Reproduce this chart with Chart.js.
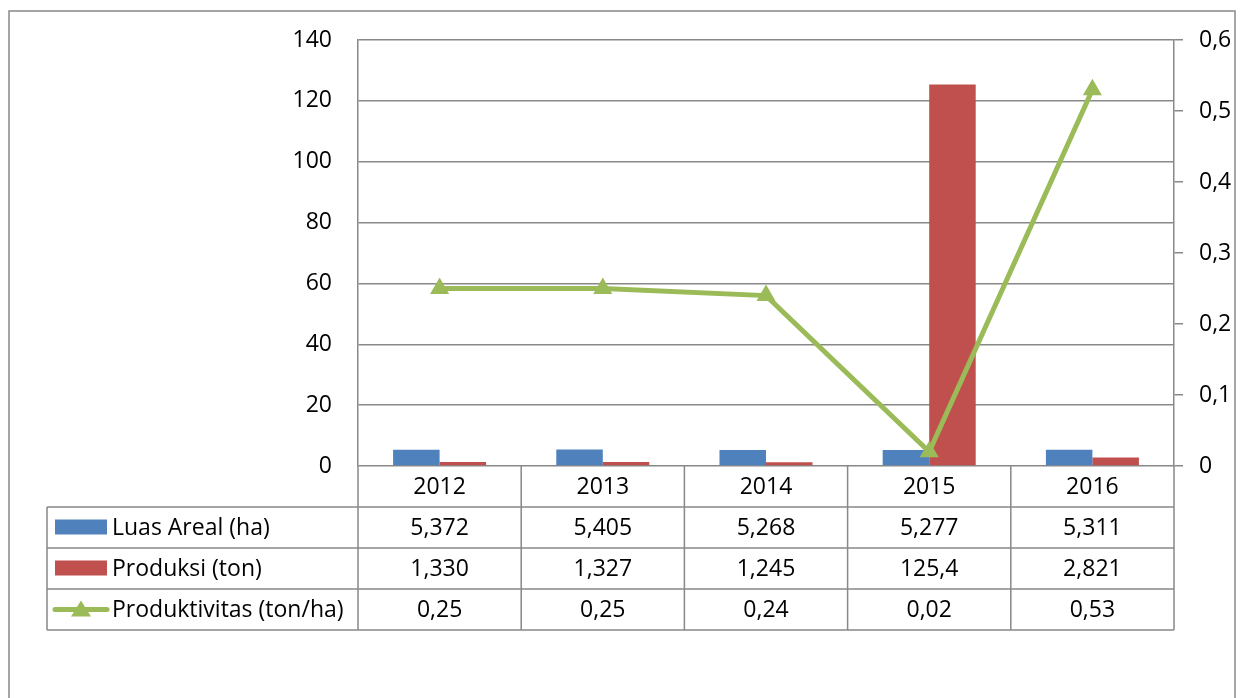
<!DOCTYPE html>
<html>
<head>
<meta charset="utf-8">
<script src="https://cdn.jsdelivr.net/npm/chart.js@4.4.1/dist/chart.umd.min.js"></script>
<style>
  html, body { margin: 0; padding: 0; background: #fff; }
  #wrap { position: relative; width: 1245px; height: 698px; }
</style>
</head>
<body>
<div id="wrap"><canvas id="chart"></canvas></div>
<script>
// data
const years = ['2012', '2013', '2014', '2015', '2016'];
const luasAreal = [5.372, 5.405, 5.268, 5.277, 5.311];
const produksi = [1.330, 1.327, 1.245, 125.4, 2.821];
const produktivitas = [0.25, 0.25, 0.24, 0.02, 0.53];
const luasText = ['5,372', '5,405', '5,268', '5,277', '5,311'];
const produksiText = ['1,330', '1,327', '1,245', '125,4', '2,821'];
const produktivitasText = ['0,25', '0,25', '0,24', '0,02', '0,53'];
const seriesNames = ['Luas Areal (ha)', 'Produksi (ton)', 'Produktivitas (ton/ha)'];

const BLUE = '#4F81BD';
const RED = '#C0504D';
const GREEN = '#9BBB59';
const GRID = '#888888';
const FONT_FAMILY = '"Open Sans", "Noto Sans", sans-serif';
const FONT_SIZE = 23;
const FONT = FONT_SIZE + 'px ' + FONT_FAMILY;

// draws the data table under the plot + the outer frame
const tablePlugin = {
    id: 'dataTable',
    afterDraw(chart) {
        const ctx = chart.ctx;
        const area = chart.chartArea;
        const xs = chart.scales.x;
        const rowH = 41;
        const legendLeft = 47;
        const top = area.bottom;
        const colW = (area.right - area.left) / years.length;

        ctx.save();
        ctx.strokeStyle = GRID;
        ctx.lineWidth = 1.5;

        // horizontal lines
        ctx.beginPath();
        for (let r = 1; r <= 4; r++) {
            const y = top + r * rowH;
            ctx.moveTo(legendLeft, y);
            ctx.lineTo(area.right, y);
        }
        // vertical lines
        for (let c = 0; c <= years.length; c++) {
            const x = area.left + c * colW;
            ctx.moveTo(x, top);
            ctx.lineTo(x, top + 4 * rowH);
        }
        ctx.moveTo(legendLeft, top + rowH);
        ctx.lineTo(legendLeft, top + 4 * rowH);
        ctx.stroke();

        // cell text
        ctx.fillStyle = '#000';
        ctx.font = FONT;
        ctx.textAlign = 'center';
        ctx.textBaseline = 'middle';
        const rows = [years, luasText, produksiText, produktivitasText];
        rows.forEach((row, r) => {
            const y = top + r * rowH + rowH / 2 + 1;
            row.forEach((t, i) => ctx.fillText(t, xs.getPixelForValue(i), y));
        });

        // legend keys + names
        ctx.textAlign = 'left';
        seriesNames.forEach((name, r) => {
            const y = top + (r + 1) * rowH + rowH / 2;
            if (r < 2) {
                ctx.fillStyle = r === 0 ? BLUE : RED;
                ctx.fillRect(55, y - 8, 52, 15);
            } else {
                ctx.strokeStyle = GREEN;
                ctx.lineWidth = 5;
                ctx.lineCap = 'round';
                ctx.beginPath();
                ctx.moveTo(55, y);
                ctx.lineTo(107, y);
                ctx.stroke();
                ctx.fillStyle = GREEN;
                ctx.beginPath();
                ctx.moveTo(81, y - 9);
                ctx.lineTo(91, y + 7);
                ctx.lineTo(71, y + 7);
                ctx.closePath();
                ctx.fill();
            }
            ctx.fillStyle = '#000';
            ctx.fillText(name, 112, y + 1);
        });

        // outer frame
        ctx.strokeStyle = GRID;
        ctx.lineWidth = 1.5;
        ctx.strokeRect(9, 11, 1226, 720);
        ctx.restore();
    }
};

new Chart(document.getElementById('chart'), {
    data: {
        labels: years,
        datasets: [
            {
                type: 'line',
                label: seriesNames[2],
                data: produktivitas,
                yAxisID: 'y1',
                borderColor: GREEN,
                backgroundColor: GREEN,
                borderWidth: 5,
                pointStyle: 'triangle',
                pointRadius: 11,
                pointBorderWidth: 0,
                tension: 0
            },
            {
                type: 'bar',
                label: seriesNames[0],
                data: luasAreal,
                yAxisID: 'y',
                backgroundColor: BLUE,
                categoryPercentage: 0.57,
                barPercentage: 1
            },
            {
                type: 'bar',
                label: seriesNames[1],
                data: produksi,
                yAxisID: 'y',
                backgroundColor: RED,
                categoryPercentage: 0.57,
                barPercentage: 1
            }
        ]
    },
    options: {
        responsive: true,
        maintainAspectRatio: false,
        animation: false,
        layout: { padding: { top: 40, bottom: 232, left: 0, right: 0 } },
        plugins: {
            legend: { display: false },
            tooltip: { enabled: false }
        },
        scales: {
            x: { display: false, offset: true },
            y: {
                position: 'left',
                min: 0,
                max: 140,
                ticks: {
                    stepSize: 20,
                    padding: 26,
                    color: '#000',
                    font: { family: FONT_FAMILY, size: FONT_SIZE }
                },
                grid: { color: GRID, lineWidth: 1.5, drawTicks: false },
                border: { display: true, color: GRID, width: 1.5 },
                afterFit: (s) => { s.width = 358; }
            },
            y1: {
                position: 'right',
                min: 0,
                max: 0.6,
                ticks: {
                    stepSize: 0.1,
                    padding: 16,
                    color: '#000',
                    font: { family: FONT_FAMILY, size: FONT_SIZE },
                    callback: (v) => v === 0 ? '0' : v.toFixed(1).replace('.', ',')
                },
                grid: { drawOnChartArea: false, color: GRID, lineWidth: 1.5, tickLength: 9 },
                border: { display: true, color: GRID, width: 1.5 },
                afterFit: (s) => { s.width = 71; }
            }
        }
    },
    plugins: [tablePlugin]
});
</script>
</body>
</html>
